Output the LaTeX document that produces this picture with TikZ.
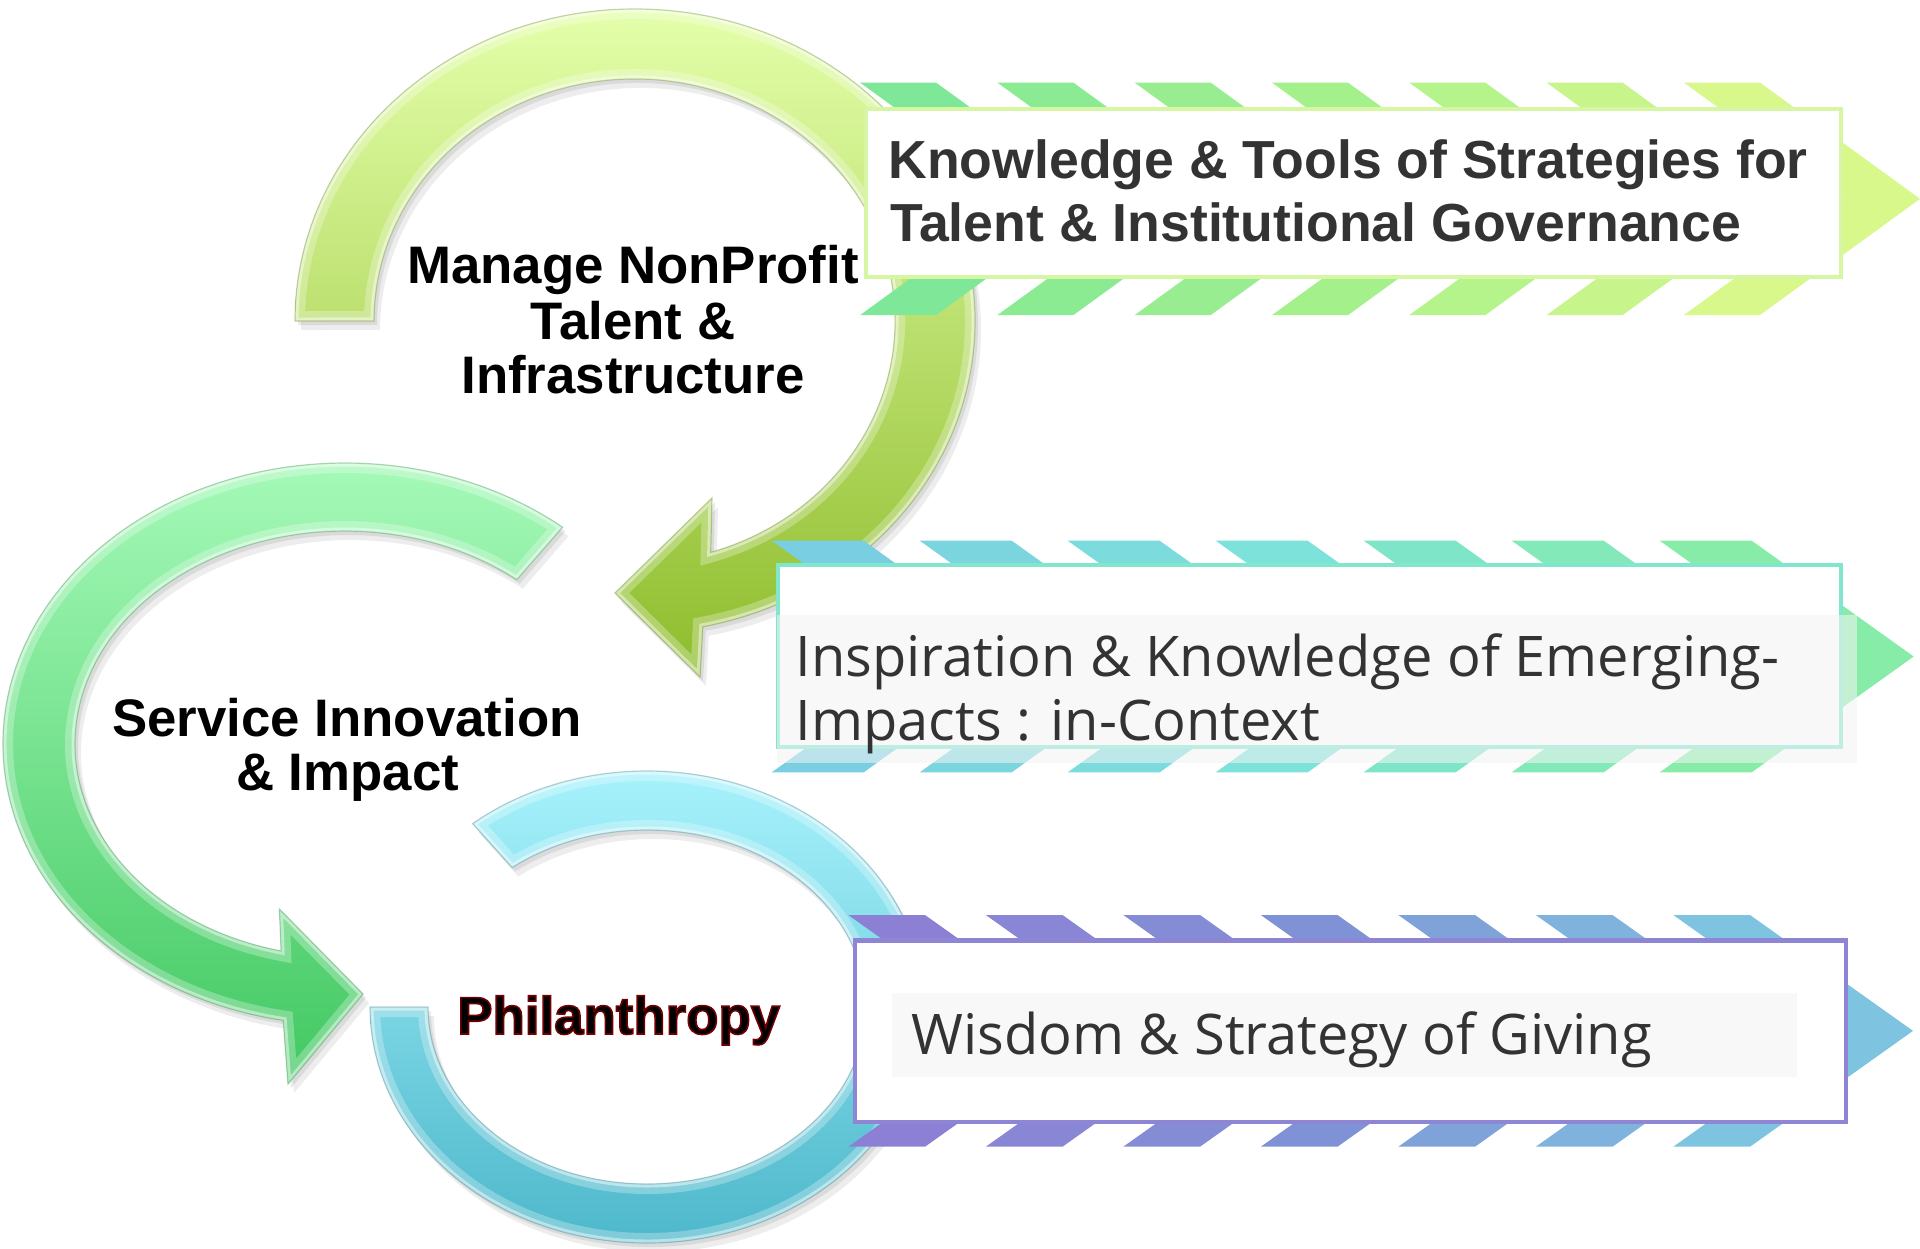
\documentclass[tikz,border=0pt]{standalone}
\usepackage{fontspec}
\setmainfont{Liberation Sans}
\newfontfamily\osans{Open Sans}
\definecolor{aT}{RGB}{228,255,170}
\definecolor{aM}{RGB}{200,236,132}
\definecolor{aB}{RGB}{142,188,44}
\definecolor{bT}{RGB}{170,252,188}
\definecolor{bM}{RGB}{124,230,150}
\definecolor{bB}{RGB}{66,200,98}
\definecolor{cT}{RGB}{172,246,255}
\definecolor{cM}{RGB}{128,218,234}
\definecolor{cB}{RGB}{72,180,200}
\definecolor{sOneL}{RGB}{126,232,152}
\definecolor{sOneM}{RGB}{164,240,138}
\definecolor{sOneR}{RGB}{216,248,140}
\definecolor{sTwoL}{RGB}{122,206,226}
\definecolor{sTwoM}{RGB}{124,226,218}
\definecolor{sTwoR}{RGB}{134,236,168}
\definecolor{sThrL}{RGB}{140,128,212}
\definecolor{sThrM}{RGB}{128,146,214}
\definecolor{sThrR}{RGB}{126,196,224}
\definecolor{bdOne}{RGB}{214,246,164}
\definecolor{bdTwo}{RGB}{128,230,204}
\definecolor{bdThr}{RGB}{142,134,212}
\definecolor{txtgray}{RGB}{51,51,51}
\definecolor{tbg}{RGB}{244,244,244}

\newcommand{\pathArcA}{(295,321) arc[start angle=180,end angle=438.5,x radius=340,y radius=312] -- (700,677) -- (615,593) -- (712,498) -- (710.7,552.4) arc[start angle=433,end angle=180,x radius=260.5,y radius=242] -- cycle}
\newcommand{\pathArcB}{(562.5,527.2) arc[start angle=309.5,end angle=100.4,x radius=342,y radius=281] -- (288,1084) -- (363,994) -- (279.4,909) -- (281.1,951) arc[start angle=103.7,end angle=309.5,x radius=270,y radius=213] -- cycle}
\newcommand{\pathArcC}{(472.7,823.6) arc[start angle=231,end angle=540,x radius=277,y radius=236] -- (428,1007) arc[start angle=540,end angle=232,x radius=219,y radius=177] -- cycle}

\newcommand{\fancyarc}[4]{%
  \fill[black,opacity=.07,shift={(6,9)}] #1;
  \fill[black,opacity=.08,shift={(3,4)}] #1;
  \shade[top color=#2,middle color=#3,bottom color=#4] #1;
  \begin{scope}
    \clip #1;
    \draw[white,opacity=.28,line width=10pt] #1;
    \draw[white,opacity=.45,line width=3.5pt] #1;
  \end{scope}
  \draw[#4!70!black,opacity=.35,line width=.6pt] #1;
}

\newcommand{\stripeband}[9]{%
  \foreach \k in {0,...,6}{%
    \pgfmathsetmacro\xa{#1+\k*#2}%
    \pgfmathsetmacro\ym{(#4+#5)/2}%
    \ifnum\k<3
      \pgfmathsetmacro\pc{100-\k*100/3}\colorlet{stc}{#7!\pc!#8}%
    \else
      \pgfmathsetmacro\pc{100-(\k-3)*100/3}\colorlet{stc}{#8!\pc!#9}%
    \fi
    \fill[stc] (\xa,#4) -- ({\xa+#3},#4) -- ({\xa+#3+#6},\ym) -- ({\xa+#3},#5) -- (\xa,#5) -- ({\xa+#6},\ym) -- cycle;
  }%
}

\newcommand{\redoutline}[1]{\special{pdf:literal direct 2 Tr 0.8 w 0.45 0 0 RG}#1\special{pdf:literal direct 0 Tr}}

\tikzset{
  midlabel/.style={inner sep=0pt,anchor=base,font=\fontsize{26.4pt}{30pt}\selectfont\bfseries,text=black},
  boxtextA/.style={inner sep=0pt,anchor=base west,font=\fontsize{26.8pt}{30pt}\selectfont\bfseries,text=txtgray},
  boxtextB/.style={inner sep=0pt,anchor=base west,font=\fontsize{28pt}{32pt}\selectfont\osans,text=txtgray},
  phil/.style={inner sep=0pt,anchor=base,font=\fontsize{26.4pt}{30pt}\selectfont\bfseries}
}

\begin{document}
\begin{tikzpicture}[x=0.5pt,y=-0.5pt]
\useasboundingbox (0,0) rectangle (1920,1248);
\fill[white] (0,0) rectangle (1920,1248);

% curved arrows
\fancyarc{\pathArcA}{aT}{aM}{aB}
\fancyarc{\pathArcB}{bT}{bM}{bB}
\fancyarc{\pathArcC}{cT}{cM}{cB}

% striped chevron bands
\stripeband{860.2}{137.3}{76}{82.7}{315}{160}{sOneL}{sOneM}{sOneR}
\stripeband{771.7}{148}{92}{540.7}{772.3}{162}{sTwoL}{sTwoM}{sTwoR}
\stripeband{848.3}{137.5}{76.7}{915}{1146.7}{163}{sThrL}{sThrM}{sThrR}

% boxes
\draw[draw=bdOne,fill=white,line width=2pt] (866,109) rectangle (1841,277);
\draw[draw=bdTwo,fill=white,line width=2.2pt] (778,565.2) rectangle (1841,747);
\draw[draw=bdThr,fill=white,line width=2.2pt] (855,940.5) rectangle (1846,1122);

% text backgrounds
\fill[tbg,opacity=.55] (777,615) rectangle (1857,763);
\fill[tbg,opacity=.55] (891.7,993.3) rectangle (1796.7,1076.7);

% box texts
\node[boxtextA] (k1) at (888,178.3) {Knowledge \& Tools of Strategies for};
\node[boxtextA] (k2) at (890,241.7) {Talent \& Institutional Governance};
\node[boxtextB] (i1) at (795,676.7) {Inspiration \& Knowledge of Emerging-};
\node[boxtextB] (i2) at (795,740.7) {Impacts : in-Context};
\node[boxtextB] (w1) at (911,1054.3) {Wisdom \& Strategy of Giving};

% central labels
\node[midlabel] (m1) at (633,283.5) {Manage NonProfit};
\node[midlabel] (m2) at (633,339) {Talent \&};
\node[midlabel] (m3) at (633,393) {Infrastructure};
\node[midlabel] (s1) at (347,736.7) {Service Innovation};
\node[midlabel] (s2) at (347.7,790) {\& Impact};

% Philanthropy: black text with dark red outline
\node[phil,text=black] (ph) at (618.7,1034) {\redoutline{Philanthropy}};
\end{tikzpicture}
\end{document}
